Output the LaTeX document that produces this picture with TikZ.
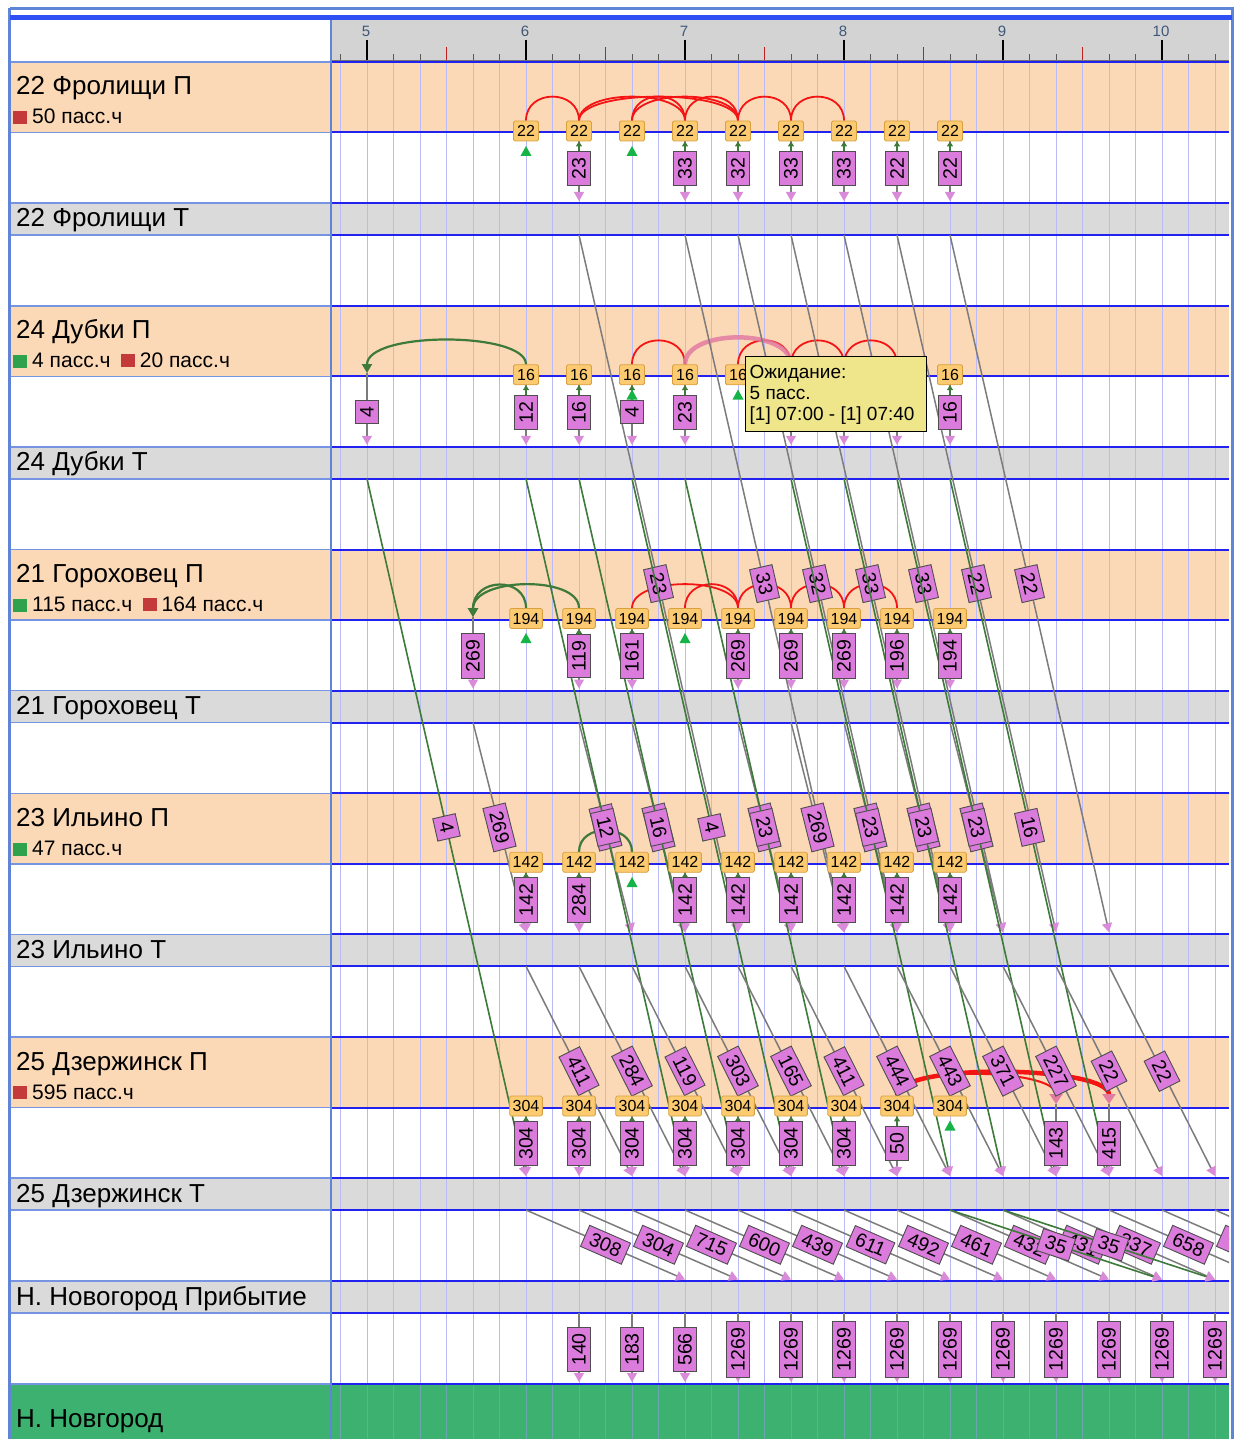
\documentclass[tikz,border=0pt]{standalone}
\usepackage{fontspec}
\setmainfont{Liberation Sans}
\usetikzlibrary{arrows.meta}
\definecolor{peach}{HTML}{FCD9B6}
\definecolor{rowgray}{HTML}{DADADA}
\definecolor{hdrgray}{HTML}{D3D3D3}
\definecolor{bline}{HTML}{2222F0}
\definecolor{lline}{HTML}{7594E2}
\definecolor{frameblue}{HTML}{5F84D8}
\definecolor{topblue}{HTML}{2E50F2}
\definecolor{gridc}{HTML}{BABAF5}
\definecolor{nngrid}{HTML}{6AA6B0}
\definecolor{obox}{HTML}{FCCA70}
\definecolor{oboxb}{HTML}{D9A040}
\definecolor{pbox}{HTML}{DB7BDC}
\definecolor{pbord}{HTML}{4E4E4E}
\definecolor{arrpink}{HTML}{D98AD9}
\definecolor{dgreen}{HTML}{3E7A3A}
\definecolor{tgreen}{HTML}{16B446}
\definecolor{nngreen}{HTML}{3DB270}
\definecolor{tipy}{HTML}{EFE68C}
\definecolor{sqred}{HTML}{C43A3A}
\definecolor{sqgreen}{HTML}{2EA24C}
\definecolor{arcred}{HTML}{F41414}
\definecolor{hlpink}{HTML}{E27CA2}
\definecolor{lgray}{HTML}{7C7C7C}
\definecolor{axtext}{HTML}{3E5878}
\definecolor{tickred}{HTML}{C02020}
\pgfdeclarelayer{back}
\pgfdeclarelayer{mid}
\pgfsetlayers{back,mid,main}
\newcommand\gx[1]{367+26.5*(#1)}
\newcommand\gtri[2]{\fill[tgreen] ({\gx{#1}-5.5},#2) -- ({\gx{#1}+5.5},#2) -- ({\gx{#1}},{#2-10}) -- cycle;}
\tikzset{
  ptip/.tip={Triangle[width=10pt,length=9pt,color=arrpink,fill=arrpink]},
  gtip/.tip={Triangle[width=10pt,length=9pt,color=dgreen,fill=dgreen]},
  utip/.tip={Triangle[width=6pt,length=5pt,color=dgreen,fill=dgreen]},
  rtip/.tip={Triangle[width=13pt,length=10pt,color=hlpink,fill=hlpink]},
  obx/.style={draw=oboxb, fill=obox, rounded corners=1.5, inner xsep=3, inner ysep=0, minimum width=25, minimum height=20, font=\fontsize{16}{16}\selectfont, line width=0.8},
  pbx/.style={draw=pbord, fill=pbox, inner xsep=6, inner ysep=0, minimum height=23, font=\fontsize{19.5}{19.5}\selectfont, line width=0.9},
  pv/.style={pbx, rotate=90},
  dl/.style={pbx, sloped, midway},
  stub/.style={draw=lgray, line width=1.2, -ptip},
  upg/.style={draw=dgreen, line width=1.8, -utip},
  gl/.style={draw=lgray, line width=1.5, -ptip},
  grl/.style={draw=dgreen, line width=1.6, -ptip},
  rarc/.style={draw=arcred, line width=1.8},
  garc/.style={draw=dgreen, line width=2.2, -gtip},
  lbl/.style={anchor=base west, inner sep=0, font=\fontsize{26}{26}\selectfont},
  sublbl/.style={anchor=base west, inner sep=0, font=\fontsize{21}{21}\selectfont},
  sq/.style={minimum width=14, minimum height=13, inner sep=0, anchor=south west},
  ttx/.style={anchor=base west, inner sep=0, font=\fontsize{19}{19}\selectfont},
}
\begin{document}
\begin{tikzpicture}[x=1pt,y=-1pt]
\useasboundingbox (0,0) rectangle (1237,1439);
% ---------- named coordinates for departures / arrivals
\foreach \g in {-1,...,40}{
  \coordinate (fd\g) at ({\gx{\g}},235);
  \coordinate (dd\g) at ({\gx{\g}},478.75);
  \coordinate (gd\g) at ({\gx{\g}},722.5);
  \coordinate (id\g) at ({\gx{\g}},966.25);
  \coordinate (zd\g) at ({\gx{\g}},1210);
  \coordinate (ia\g) at ({\gx{\g}},932.25);
  \coordinate (za\g) at ({\gx{\g}},1176);
  \coordinate (na\g) at ({\gx{\g}},1279.5);
}
% ---------- background
\begin{pgfonlayer}{back}
\fill[white] (0,0) rectangle (1237,1439);
\foreach \B in {62,305.75,549.5,793.25,1037}{
  \fill[peach] (10,\B) rectangle (1229,{\B+70.5});
  \fill[rowgray] (10,{\B+141}) rectangle (1229,{\B+173});
}
\fill[rowgray] (10,1281) rectangle (1229,1313);
\fill[nngreen] (10,1384) rectangle (1229,1439);
\fill[hdrgray] (332,20) rectangle (1229,61);
\foreach \g in {-1,...,32}{
  \draw[gridc, line width=1] ({\gx{\g}},62) -- ({\gx{\g}},1384);
  \draw[nngrid, line width=0.8] ({\gx{\g}},1384) -- ({\gx{\g}},1439);
  \draw[black!65, line width=0.8] ({\gx{\g}},54) -- ({\gx{\g}},61);
}
\foreach \g in {3,9,...,27} \draw[tickred, line width=1] ({\gx{\g}},47) -- ({\gx{\g}},61);
\foreach \g/\h in {0/5,6/6,12/7,18/8,24/9,30/10}{
  \draw[black, line width=1.2] ({\gx{\g}},40) -- ({\gx{\g}},61);
  \node[font=\fontsize{15}{15}\selectfont, text=axtext, inner sep=0] (hr\h) at ({\gx{\g}-1},31) {\h};
}
\draw[black!55, line width=1] (332,60.5) -- (1229,60.5);
\foreach \y in {62,132.5,203,235,305.75,376.25,446.75,478.75,549.5,620,690.5,722.5,793.25,863.75,934.25,966.25,1037,1107.5,1178,1210,1281,1313,1384}{
  \draw[bline, line width=2] (332,\y) -- (1229,\y);
  \draw[lline, line width=1.5] (10,\y) -- (331,\y);
}
\end{pgfonlayer}

% ================= 22 Frolishchi P
\foreach \g in {6,8,...,22} \node[obx] (fo\g) at ({\gx{\g}},131) {22};
\foreach \g/\n in {8/23,12/33,14/32,16/33,18/33,20/22,22/22}{
  \node[pv] (fp\g) at ({\gx{\g}},168.5) {\n};
  \coordinate (fa\g) at ({\gx{\g}},201);
  \begin{pgfonlayer}{mid}
    \draw[stub] (fo\g.center) -- (fa\g);
    \draw[upg] (fp\g.east) -- (fo\g.south);
  \end{pgfonlayer}
}
\gtri{6}{156}\gtri{10}{156}
\begin{pgfonlayer}{mid}
\foreach \a/\b in {6/8,8/12,8/14,10/12,10/14,12/14,14/16,16/18}
  \draw[rarc] (fo\a.north) .. controls +(0,-32) and +(0,-32) .. (fo\b.north);
\end{pgfonlayer}

% ================= 24 Dubki P
\foreach \g in {6,8,...,22} \node[obx] (do\g) at ({\gx{\g}},374.75) {16};
\foreach \g/\n in {6/12,8/16,10/4,12/23,16/23,18/23,20/23,22/16}{
  \node[pv] (dp\g) at ({\gx{\g}},412.25) {\n};
  \coordinate (da\g) at ({\gx{\g}},444.75);
  \begin{pgfonlayer}{mid}
    \draw[stub] (do\g.center) -- (da\g);
    \draw[upg] (dp\g.east) -- (do\g.south);
  \end{pgfonlayer}
}
\coordinate (dt0) at ({\gx{0}},373);
\node[pv] (dp0) at ({\gx{0}},412.25) {4};
\coordinate (da0) at ({\gx{0}},444.75);
\gtri{10}{399.5}\gtri{14}{399.5}
\begin{pgfonlayer}{mid}
\draw[stub] (dt0) -- (da0);
\draw[garc] (do6.north) .. controls +(0,-33) and +(0,-42) .. (dt0);
\foreach \a/\b in {10/12,14/16,16/18,18/20}
  \draw[rarc] (do\a.north) .. controls +(0,-32) and +(0,-32) .. (do\b.north);
\draw[hlpink, line width=4.5, opacity=.85] (do12.north) .. controls +(0,-36) and +(0,-36) .. (do16.north);
\end{pgfonlayer}

% ================= 21 Gorohovets P
\foreach \g in {6,8,...,22} \node[obx] (go\g) at ({\gx{\g}},618.5) {194};
\foreach \g/\n in {8/119,10/161,14/269,16/269,18/269,20/196,22/194}{
  \node[pv] (gp\g) at ({\gx{\g}},656) {\n};
  \coordinate (ga\g) at ({\gx{\g}},688.5);
  \begin{pgfonlayer}{mid}
    \draw[stub] (go\g.center) -- (ga\g);
    \draw[upg] (gp\g.east) -- (go\g.south);
  \end{pgfonlayer}
}
\coordinate (gt4) at ({\gx{4}},617);
\node[pv] (gp4) at ({\gx{4}},656) {269};
\coordinate (ga4) at ({\gx{4}},688.5);
\gtri{6}{643}\gtri{12}{643}
\begin{pgfonlayer}{mid}
\draw[stub] (gt4) -- (ga4);
\draw[garc] (go6.north) .. controls +(0,-32) and +(0,-40) .. (gt4);
\draw[garc] (go8.north) .. controls +(0,-33) and +(0,-40) .. (gt4);
\foreach \a/\b in {10/14,12/14,14/16,16/18,18/20}
  \draw[rarc] (go\a.north) .. controls +(0,-32) and +(0,-32) .. (go\b.north);
\end{pgfonlayer}

% ================= 23 Ilino P
\foreach \g in {6,8,...,22} \node[obx] (io\g) at ({\gx{\g}},862.25) {142};
\foreach \g/\n in {6/142,8/284,12/142,14/142,16/142,18/142,20/142,22/142}{
  \node[pv] (ip\g) at ({\gx{\g}},899.75) {\n};
  \coordinate (iq\g) at ({\gx{\g}},932.25);
  \begin{pgfonlayer}{mid}
    \draw[stub] (io\g.center) -- (iq\g);
    \draw[upg] (ip\g.east) -- (io\g.south);
  \end{pgfonlayer}
}
\gtri{10}{887}
\begin{pgfonlayer}{mid}
\draw[dgreen, line width=2.2] (io8.north) .. controls +(0,-29) and +(0,-29) .. (io10.north);
\end{pgfonlayer}

% ================= 25 Dzerzhinsk P
\foreach \g in {6,8,...,22} \node[obx] (zo\g) at ({\gx{\g}},1106) {304};
\foreach \g/\n in {6/304,8/304,10/304,12/304,14/304,16/304,18/304,20/50}{
  \node[pv] (zp\g) at ({\gx{\g}},1143.5) {\n};
  \coordinate (zq\g) at ({\gx{\g}},1176);
  \begin{pgfonlayer}{mid}
    \draw[stub] (zo\g.center) -- (zq\g);
    \draw[upg] (zp\g.east) -- (zo\g.south);
  \end{pgfonlayer}
}
\foreach \g/\n in {26/143,28/415}{
  \coordinate (zt\g) at ({\gx{\g}},1104);
  \node[pv] (zp\g) at ({\gx{\g}},1143.5) {\n};
  \coordinate (zq\g) at ({\gx{\g}},1176);
  \begin{pgfonlayer}{mid}
    \draw[stub] (zt\g) -- (zq\g);
  \end{pgfonlayer}
}
\gtri{22}{1130.5}
\begin{pgfonlayer}{mid}
\draw[draw=arcred, line width=2, -rtip] (zo20.north) .. controls +(0,-30) and +(0,-36) .. (zt26);
\draw[draw=arcred, line width=4.5, -rtip] (zo20.north) .. controls +(0,-34) and +(0,-38) .. (zt28);
\end{pgfonlayer}

% ================= N. Novgorod arrival
\foreach \g/\n in {8/140,10/183,12/566,14/1269,16/1269,18/1269,20/1269,22/1269,24/1269,26/1269,28/1269,30/1269,32/1269}{
  \coordinate (nt\g) at ({\gx{\g}},1313);
  \coordinate (nb\g) at ({\gx{\g}},1382);
  \node[pv] (np\g) at ({\gx{\g}},1349.5) {\n};
  \begin{pgfonlayer}{mid}
    \draw[stub] (nt\g) -- (nb\g);
  \end{pgfonlayer}
}

% ================= travel lines
\begin{pgfonlayer}{mid}
\begin{scope}
\clip (332,62) rectangle (1229,1439);
\foreach \g/\n [evaluate=\g as \h using int(\g+6)] in {8/23,12/33,14/32,16/33,18/33,20/22,22/22}
  \draw[gl] (fd\g) -- node[dl] (fl\g) {\n} (ia\h);
\foreach \g/\n [evaluate=\g as \h using int(\g+2)] in {4/269,8/119,10/161,14/269,16/269,18/269,20/196,22/194}
  \draw[gl] (gd\g) -- node[dl] (gl\g) {\n} (ia\h);
\foreach \g/\n [evaluate=\g as \h using int(\g+6)] in {0/4,6/12,8/16,10/4,12/23,16/23,18/23,20/23,22/16}
  \draw[grl] (dd\g) -- node[dl] (dl\g) {\n} (za\h);
\foreach \g/\n [evaluate=\g as \h using int(\g+4)] in {6/411,8/284,10/119,12/303,14/165,16/411,18/444,20/443,22/371,24/227,26/22,28/22}
  \draw[gl] (id\g) -- node[dl] (il\g) {\n} (za\h);
\foreach \g/\n [evaluate=\g as \h using int(\g+6)] in {6/308,8/304,10/715,12/600,14/439,16/611,18/492,20/461,22/432,24/431,26/337,28/658}
  \draw[gl] (zd\g) -- node[dl] (zl\g) {\n} (na\h);
\draw[gl] (zd30) -- node[dl] (zl30) {\phantom{412}} (na36);
\draw[gl] (zd32) -- (na38);
\draw[grl] (zd22) -- node[dl] (zg22) {35} (na30);
\draw[grl] (zd24) -- node[dl] (zg24) {35} (na32);
\end{scope}
\end{pgfonlayer}

% ================= left panel
\node[lbl] (n1) at (16,95) {22 Фролищи П};
\node[sq, fill=sqred] (s1) at (13,124.5) {};
\node[sublbl] (t1) at (32,124) {50 пасс.ч};
\node[lbl] (n1t) at (16,227) {22 Фролищи Т};

\node[lbl] (n2) at (16,338.75) {24 Дубки П};
\node[sq, fill=sqgreen] (s2a) at (13,368.25) {};
\node[sublbl] (t2a) at (32,367.75) {4 пасс.ч};
\node[sq, fill=sqred] (s2b) at ([xshift=10,yshift=0.5]t2a.base east) {};
\node[sublbl] (t2b) at ([xshift=29]t2a.base east) {20 пасс.ч};
\node[lbl] (n2t) at (16,470.75) {24 Дубки Т};

\node[lbl] (n3) at (16,582.5) {21 Гороховец П};
\node[sq, fill=sqgreen] (s3a) at (13,612) {};
\node[sublbl] (t3a) at (32,611.5) {115 пасс.ч};
\node[sq, fill=sqred] (s3b) at ([xshift=10,yshift=0.5]t3a.base east) {};
\node[sublbl] (t3b) at ([xshift=29]t3a.base east) {164 пасс.ч};
\node[lbl] (n3t) at (16,714.5) {21 Гороховец Т};

\node[lbl] (n4) at (16,826.25) {23 Ильино П};
\node[sq, fill=sqgreen] (s4) at (13,855.75) {};
\node[sublbl] (t4) at (32,855.25) {47 пасс.ч};
\node[lbl] (n4t) at (16,958.25) {23 Ильино Т};

\node[lbl] (n5) at (16,1070) {25 Дзержинск П};
\node[sq, fill=sqred] (s5) at (13,1099.5) {};
\node[sublbl] (t5) at (32,1099) {595 пасс.ч};
\node[lbl] (n5t) at (16,1202) {25 Дзержинск Т};

\node[lbl] (n6) at (16,1305) {Н. Новогород Прибытие};
\node[lbl] (n7) at (16,1427) {Н. Новгород};

% ================= frame
\draw[frameblue, line width=2.5] (331,17) -- (331,1439);
\draw[frameblue, line width=3] (9.5,8.5) -- (1232,8.5) -- (1232,1439);
\draw[frameblue, line width=3] (9.5,8.5) -- (9.5,1439);
\draw[topblue, line width=5] (10,17.5) -- (1232,17.5);

% ================= tooltip
\node[draw=black, fill=tipy, line width=1, minimum width=181, minimum height=75, inner sep=0] (tt) at (835.5,394) {};
\node[ttx] (tt1) at (749.5,378) {Ожидание:};
\node[ttx] (tt2) at (749.5,399.5) {5 пасс.};
\node[ttx] (tt3) at (749.5,420.5) {[1] 07:00 - [1] 07:40};
\end{tikzpicture}
\end{document}
